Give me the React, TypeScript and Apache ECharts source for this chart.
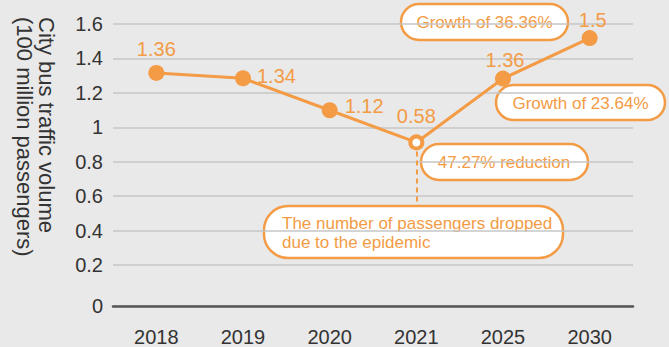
import React, { useEffect, useRef } from 'react';
import * as echarts from 'echarts';

const categories = ['2018', '2019', '2020', '2021', '2025', '2030'];
const values = [1.316, 1.285, 1.099, 0.912, 1.283, 1.518];
const labelTexts = ['1.36', '1.34', '1.12', '0.58', '1.36', '1.5'];
const yTickValues = [-0.038, 0.2, 0.4, 0.6, 0.8, 1, 1.2, 1.4, 1.6];
const yTickLabels = ['0', '0.2', '0.4', '0.6', '0.8', '1', '1.2', '1.4', '1.6'];
const yAxisNameLines = ['City bus traffic volume', '(100 million passengers)'];
const dropCategory = '2021';
const dropEndValue = 0.55;
const annotationTexts = [
  'Growth of 36.36%',
  'Growth of 23.64%',
  '47.27% reduction',
  'The number of passengers dropped\ndue to the epidemic',
];

const ORANGE = '#F39B45';
const FONT = '"Liberation Sans", Arial, Helvetica, sans-serif';

export default function App() {
  const ref = useRef<HTMLDivElement>(null);
  useEffect(() => {
    if (!ref.current) return;
    const chart = echarts.init(ref.current, undefined, { renderer: 'svg' });
    const labelPos = ['top', 'right', 'right', 'top', 'top', 'top'];
    const labelDist = [6, 6, 7, 8, 1, 0];
    const labelOff = [[0, 0], [0, -2], [0, -4], [0, 0], [2, 0], [3, 0]];
    const data = values.map((v, i) => {
      const hollow = categories[i] === dropCategory;
      return {
        value: v,
        symbolSize: hollow ? 12 : 16,
        itemStyle: hollow
          ? { color: '#ffffff', borderColor: ORANGE, borderWidth: 4 }
          : { color: ORANGE, borderWidth: 0 },
        label: {
          show: true,
          formatter: labelTexts[i],
          position: labelPos[i],
          distance: labelDist[i],
          offset: labelOff[i],
          color: ORANGE,
          fontSize: 20,
          fontFamily: FONT,
        },
      };
    });

    const box = (x: number, y: number, w: number, h: number, r: number, text: string, tx: number, ty: number, align: string) => ({
      type: 'group',
      children: [
        {
          type: 'rect',
          shape: { x, y, width: w, height: h, r },
          style: { fill: '#ffffff', stroke: ORANGE, lineWidth: 2.5 },
        },
        {
          type: 'text',
          style: {
            text,
            x: tx,
            y: ty,
            fill: ORANGE,
            font: `17px ${FONT}`,
            lineHeight: 19,
            align,
            verticalAlign: 'middle',
            textAlign: align,
            textVerticalAlign: 'middle',
          },
        },
      ],
    });

    const nameText = (text: string, x: number) => ({
      type: 'text',
      x,
      y: 17,
      rotation: -Math.PI / 2,
      style: {
        text,
        fill: '#333333',
        font: `22px ${FONT}`,
        align: 'left',
        verticalAlign: 'middle',
        textAlign: 'left',
        textVerticalAlign: 'middle',
      },
    });

    chart.setOption({
      animation: false,
      grid: { left: 113, right: 36, top: 24, bottom: 39.5, containLabel: false },
      xAxis: {
        type: 'category',
        data: categories,
        boundaryGap: true,
        axisLine: { onZero: false, lineStyle: { color: '#555555', width: 2.5 } },
        axisTick: { show: false },
        axisLabel: { color: '#333333', fontSize: 20, fontFamily: FONT, margin: 21 },
        splitLine: { show: false },
      },
      yAxis: {
        type: 'value',
        min: yTickValues[0],
        max: yTickValues[yTickValues.length - 1],
        axisLine: { show: false },
        axisTick: { show: false, customValues: yTickValues },
        axisLabel: {
          customValues: yTickValues,
          color: '#333333',
          fontSize: 20,
          fontFamily: FONT,
          margin: 10,
          formatter: (v: number) => {
            let best = 0;
            yTickValues.forEach((t, i) => {
              if (Math.abs(t - v) < Math.abs(yTickValues[best] - v)) best = i;
            });
            return yTickLabels[best];
          },
        },
        splitLine: { show: true, lineStyle: { color: '#c6c6c6', width: 1.5 } },
      },
      series: [
        {
          type: 'line',
          data,
          symbol: 'circle',
          lineStyle: { color: ORANGE, width: 3 },
          itemStyle: { color: ORANGE },
          z: 3,
          markLine: {
            silent: true,
            symbol: 'none',
            z: 1,
            label: { show: false },
            lineStyle: { color: ORANGE, width: 2, type: [5, 4] },
            data: [
              [
                { coord: [dropCategory, values[categories.indexOf(dropCategory)]] },
                { coord: [dropCategory, dropEndValue] },
              ],
            ],
          },
        },
      ],
      graphic: [
        nameText(yAxisNameLines[0], 46.5),
        nameText(yAxisNameLines[1], 24),
        box(401, 4, 167, 36, 18, annotationTexts[0], 484.5, 22, 'center'),
        box(496, 85, 169, 35, 17.5, annotationTexts[1], 580.5, 103, 'center'),
        box(421, 144, 167, 36, 18, annotationTexts[2], 504, 162.5, 'center'),
        box(264, 206, 299, 52, 24, annotationTexts[3], 282, 232.5, 'left'),
      ],
    });
    return () => chart.dispose();
  }, []);
  return (
    <div
      style={{ position: 'fixed', left: 0, top: 0, width: 669, height: 347, background: '#e9e9e9' }}
    >
      <div ref={ref} style={{ width: 669, height: 347 }} />
    </div>
  );
}
